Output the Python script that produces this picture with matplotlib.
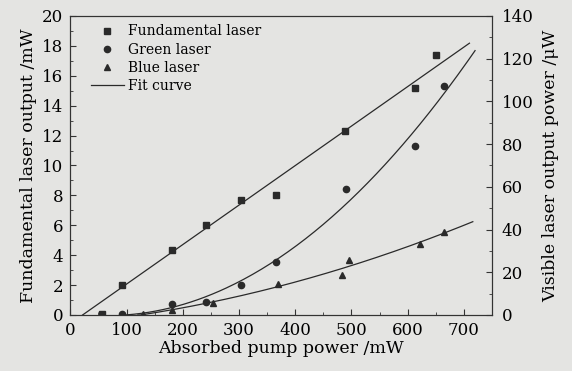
import matplotlib as mpl
mpl.use('Agg')
import matplotlib.pyplot as plt
import numpy as np
from matplotlib.ticker import MultipleLocator

plt.rcParams['font.family'] = ['DejaVu Serif']

# fundamental laser (mW, left axis)
pump_fund = [56, 92, 180, 242, 303, 366, 488, 614, 651]
fund_mw = [0.05, 2.0, 4.35, 6.0, 7.7, 8.0, 12.3, 15.2, 17.4]

# green laser (uW, right axis)
pump_green = [92, 180, 242, 303, 366, 490, 614, 664]
green_uw = [0.4, 5.2, 6.2, 14.0, 25.0, 59.0, 79.0, 107.0]

# blue laser (uW, right axis)
pump_blue = [130, 180, 253, 370, 484, 496, 622, 664]
blue_uw = [0.4, 2.3, 5.5, 14.4, 18.7, 25.7, 33.0, 39.0]

bg = '#e4e4e2'
ink = '#2a2a2a'

# fit curves
pf = np.polyfit(pump_fund[1:], fund_mw[1:], 1)
xf = np.linspace(-pf[1] / pf[0], 710, 100)
pg = np.polyfit(pump_green, green_uw, 2)
xg = np.linspace(95, 720, 200)
pb = np.polyfit(pump_blue, blue_uw, 2)
xb = np.linspace(120, 716, 200)

fig = plt.figure(figsize=(5.72, 3.71), dpi=100, facecolor=bg)
ax = fig.add_axes([0.123, 0.151, 0.737, 0.806])
ax.set_facecolor(bg)
ax2 = ax.twinx()

ax.plot(pump_fund, fund_mw, 's', color=ink, ms=4.5, label='Fundamental laser')
ax.plot(xf, np.polyval(pf, xf), '-', color=ink, lw=0.9)
ax2.plot(pump_green, green_uw, 'o', color=ink, ms=4.5)
ax2.plot(xg, np.clip(np.polyval(pg, xg), 0, None), '-', color=ink, lw=0.9)
ax2.plot(pump_blue, blue_uw, '^', color=ink, ms=5)
ax2.plot(xb, np.clip(np.polyval(pb, xb), 0, None), '-', color=ink, lw=0.9)

# legend proxies
ax.plot([], [], 'o', color=ink, ms=4.5, label='Green laser')
ax.plot([], [], '^', color=ink, ms=5, label='Blue laser')
ax.plot([], [], '-', color=ink, lw=0.9, label='Fit curve')
ax.legend(loc='upper left', frameon=False, fontsize=10, handlelength=2.4,
          handletextpad=0.3, labelspacing=0.3, borderaxespad=0.0,
          numpoints=1, bbox_to_anchor=(0.035, 0.99))

ax.set_xlim(0, 750)
ax.set_ylim(0, 20)
ax2.set_ylim(0, 140)
ax.xaxis.set_major_locator(MultipleLocator(100))
ax.xaxis.set_minor_locator(MultipleLocator(50))
ax.yaxis.set_major_locator(MultipleLocator(2))
ax.yaxis.set_minor_locator(MultipleLocator(1))
ax2.yaxis.set_major_locator(MultipleLocator(20))
ax2.yaxis.set_minor_locator(MultipleLocator(10))

for a in (ax, ax2):
    a.tick_params(which='both', direction='in', labelsize=12, color='#333333')
    a.tick_params(which='major', length=4)
    a.tick_params(which='minor', length=2)
    for s in a.spines.values():
        s.set_color('#333333')
ax.tick_params(axis='x', pad=5)
ax.tick_params(axis='y', pad=5)
ax2.tick_params(axis='y', pad=7)

ax.set_xlabel('Absorbed pump power /mW', fontsize=12.5, labelpad=1)
ax.set_ylabel('Fundamental laser output /mW', fontsize=12.5, labelpad=4)
ax2.set_ylabel('Visible laser output power /\u03bcW', fontsize=12.5, labelpad=6)

fig.savefig('out.png', dpi=100, facecolor=bg)
